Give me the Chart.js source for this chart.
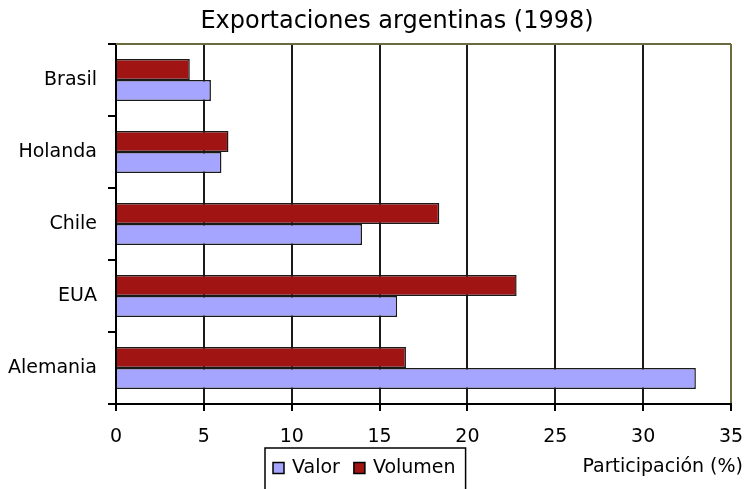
<!DOCTYPE html>
<html lang="es">
<head>
<meta charset="UTF-8">
<title>Exportaciones argentinas (1998)</title>
<script src="https://cdn.jsdelivr.net/npm/chart.js"></script>
<style>
 body { margin: 0; background: #fff; }
 #wrap { width: 744px; height: 489px; }
</style>
</head>
<body>
<div id="wrap"><canvas id="chart" width="744" height="489"></canvas></div>
<script>
const paises = ['Brasil', 'Holanda', 'Chile', 'EUA', 'Alemania'];
const valor = [5.4, 6.0, 14.0, 16.0, 33.0];
const volumen = [4.2, 6.4, 18.4, 22.8, 16.5];
const xTicks = [0, 5, 10, 15, 20, 25, 30, 35];
const titulo = 'Exportaciones argentinas (1998)';
const tituloEje = 'Participación (%)';

const FONT = 'DejaVu Sans';
const olive = '#6b6b40';

// titulo, marco superior, leyenda con borde y titulo del eje
const extras = {
  id: 'extras',
  afterDraw(chart) {
    const ctx = chart.ctx;
    const a = chart.chartArea;
    ctx.save();
    ctx.strokeStyle = olive;
    ctx.lineWidth = 2;
    ctx.beginPath();
    ctx.moveTo(a.left, a.top);
    ctx.lineTo(a.right, a.top);
    ctx.stroke();

    ctx.fillStyle = '#000';
    ctx.textBaseline = 'middle';
    ctx.textAlign = 'center';
    ctx.font = '24px "' + FONT + '"';
    ctx.fillText(titulo, 397, 22);

    ctx.font = '19px "' + FONT + '"';
    ctx.textAlign = 'right';
    ctx.fillText(tituloEje, 743, 467);

    // leyenda: Valor primero, luego Volumen
    ctx.textAlign = 'left';
    const items = chart.data.datasets.slice().reverse();
    const boxL = 265, boxT = 448, cy = 468;
    let x = boxL + 8;
    items.forEach((ds, i) => {
      if (i > 0) x += 14;
      ctx.fillStyle = ds.backgroundColor;
      ctx.fillRect(x, cy - 5.5, 11, 11);
      ctx.strokeStyle = '#000';
      ctx.lineWidth = 1.5;
      ctx.strokeRect(x, cy - 5.5, 11, 11);
      x += 19;
      ctx.fillStyle = '#000';
      ctx.fillText(ds.label, x, cy);
      x += ctx.measureText(ds.label).width;
    });
    ctx.strokeStyle = '#000';
    ctx.lineWidth = 1.5;
    ctx.strokeRect(boxL, boxT, x + 10 - boxL, 50);
    ctx.restore();
  }
};

new Chart(document.getElementById('chart'), {
  type: 'bar',
  data: {
    labels: paises,
    datasets: [
      { label: 'Volumen', data: volumen, backgroundColor: '#a01414', borderColor: '#1a1a1a', borderWidth: 1.5 },
      { label: 'Valor', data: valor, backgroundColor: '#a5a5ff', borderColor: '#1a1a1a', borderWidth: 1.5 }
    ]
  },
  options: {
    indexAxis: 'y',
    responsive: false,
    animation: false,
    datasets: { bar: { categoryPercentage: 0.58, barPercentage: 1 } },
    layout: { padding: { top: 44, right: 0, bottom: 0, left: 0 } },
    plugins: {
      legend: { display: false },
      tooltip: { enabled: false },
      title: { display: false }
    },
    scales: {
      x: {
        min: 0,
        max: 35,
        afterBuildTicks: s => { s.ticks = xTicks.map(v => ({ value: v })); },
        afterFit: s => { s.height = 85; s.paddingRight = 13; s.paddingLeft = 0; },
        grid: {
          color: c => (c.tick && c.tick.value === 35 ? olive : '#1a1a1a'),
          tickColor: '#000',
          lineWidth: 2,
          tickLength: 7
        },
        border: { color: '#000', width: 2 },
        ticks: { color: '#000', padding: 15, maxRotation: 0, font: { family: FONT, size: 19 } }
      },
      y: {
        afterFit: s => { s.width = 116; },
        grid: { drawOnChartArea: false, color: '#000', lineWidth: 2, tickLength: 8 },
        border: { color: '#000', width: 2 },
        ticks: { color: '#000', padding: 11, font: { family: FONT, size: 19 } }
      }
    }
  },
  plugins: [extras]
});
</script>
</body>
</html>
